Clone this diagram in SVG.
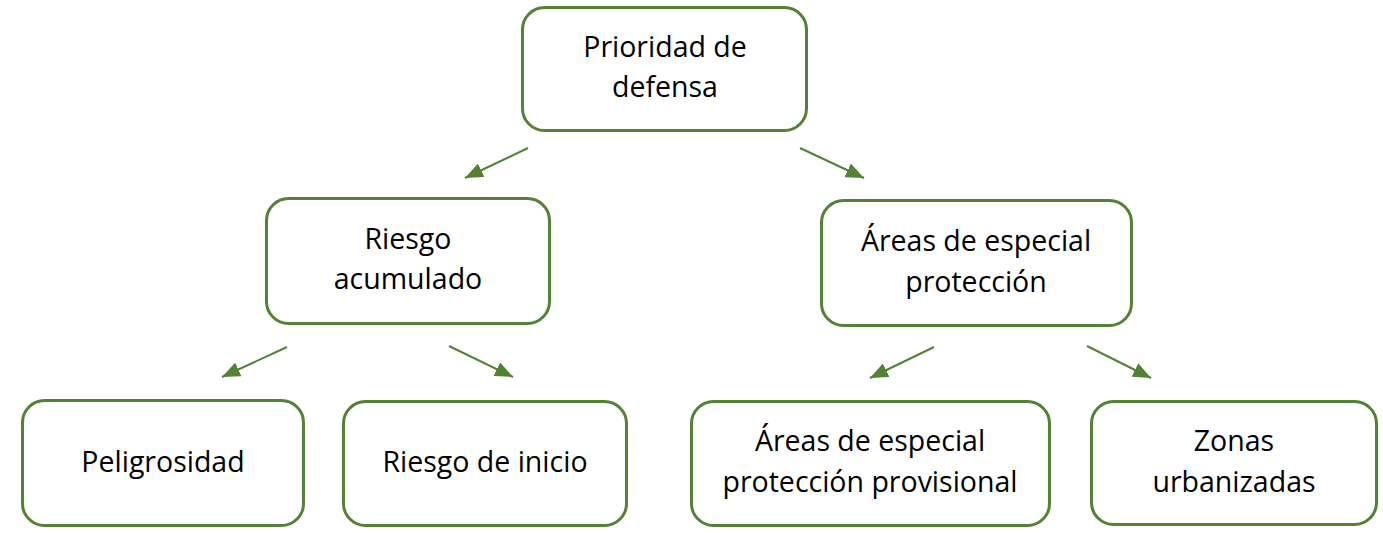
<svg xmlns="http://www.w3.org/2000/svg" width="1383" height="533" viewBox="0 0 1383 533">
<style>
.box{fill:#fff;stroke:#548235;stroke-width:3}
.t{font-family:"Open Sans","Liberation Sans",sans-serif;font-size:28.5px;fill:#000;text-anchor:middle}
.c{stroke:#548235;stroke-width:2;fill:none;marker-end:url(#ah)}
</style>
<defs>
<marker id="ah" viewBox="0 0 10 10" refX="10" refY="5" markerWidth="18" markerHeight="15" markerUnits="userSpaceOnUse" orient="auto" preserveAspectRatio="none">
<path d="M0,0 L10,5 L0,10 z" fill="#548235"/>
</marker>
</defs>
<rect width="1383" height="533" fill="#fff"/>
<g id="connectors">
<line class="c" x1="528" y1="148" x2="465" y2="178"/>
<line class="c" x1="800" y1="148" x2="864" y2="178"/>
<line class="c" x1="287" y1="347" x2="222" y2="377"/>
<line class="c" x1="449" y1="346" x2="513" y2="377"/>
<line class="c" x1="934" y1="347" x2="870" y2="378"/>
<line class="c" x1="1087" y1="346" x2="1151" y2="378"/>
</g>
<g id="n-prioridad">
<rect class="box" x="522.5" y="7.5" width="284" height="123" rx="22"/>
<text class="t" x="665" y="57">Prioridad de</text>
<text class="t" x="665" y="97">defensa</text>
</g>
<g id="n-riesgo-acumulado">
<rect class="box" x="266.5" y="198.5" width="283" height="125" rx="22"/>
<text class="t" x="408" y="249">Riesgo</text>
<text class="t" x="408" y="289">acumulado</text>
</g>
<g id="n-areas">
<rect class="box" x="821.5" y="200.5" width="310" height="125" rx="22"/>
<text class="t" x="976" y="251">Áreas de especial</text>
<text class="t" x="976" y="292">protección</text>
</g>
<g id="n-peligrosidad">
<rect class="box" x="22.5" y="400.5" width="281" height="125" rx="22"/>
<text class="t" x="163" y="472">Peligrosidad</text>
</g>
<g id="n-riesgo-inicio">
<rect class="box" x="343.5" y="401.5" width="283" height="124" rx="22"/>
<text class="t" x="485" y="472">Riesgo de inicio</text>
</g>
<g id="n-areas-prov">
<rect class="box" x="691.5" y="401.5" width="358" height="124" rx="22"/>
<text class="t" x="870" y="451">Áreas de especial</text>
<text class="t" x="870" y="492">protección provisional</text>
</g>
<g id="n-zonas">
<rect class="box" x="1091.5" y="401.5" width="285" height="123" rx="22"/>
<text class="t" x="1234" y="451">Zonas</text>
<text class="t" x="1234" y="492">urbanizadas</text>
</g>
</svg>
